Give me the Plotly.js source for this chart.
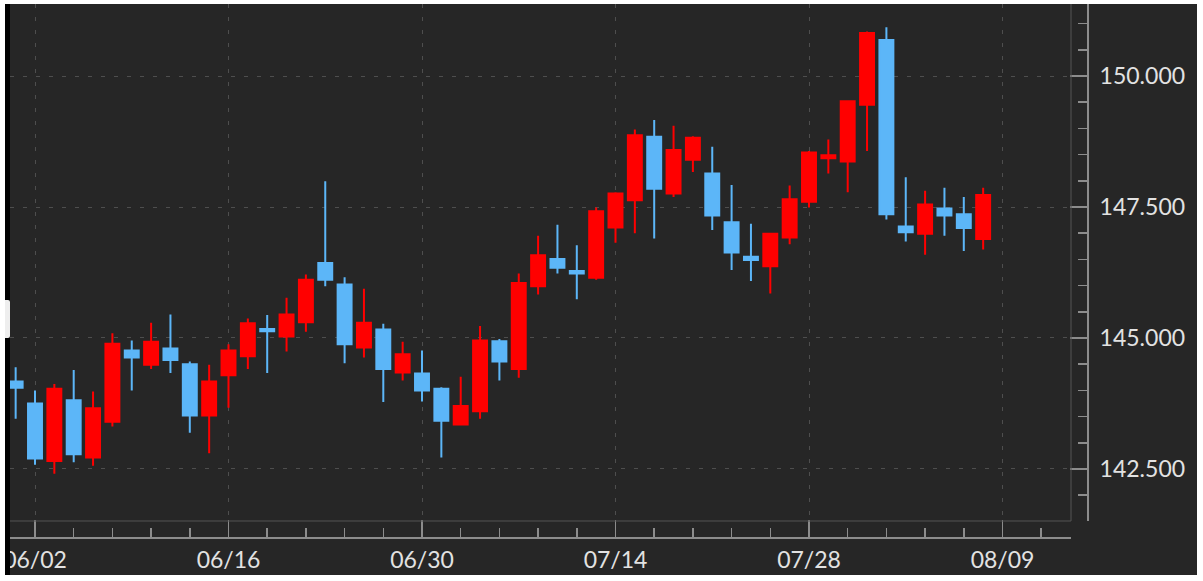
<!DOCTYPE html>
<html>
<head>
<meta charset="utf-8">
<script src="https://cdn.plot.ly/plotly-3.0.1.min.js"></script>
<style>
  html, body { margin: 0; padding: 0; background: #ffffff; width: 1203px; height: 581px; overflow: hidden; }
  #edge { position: absolute; left: 5px; top: 4px; width: 5px; height: 571px; background: #000000; }
  #handle { position: absolute; left: 5px; top: 300px; width: 5px; height: 38px; background: #eeeeee; border-radius: 0 2px 2px 0; }
  #chart { position: absolute; left: 10px; top: 4px; width: 1187px; height: 571px; }
</style>
</head>
<body>
<div id="edge"></div>
<div id="chart"></div>
<div id="handle"></div>
<script>
// Trading days (MM/DD, 2025)
const dates = [
  '05/30',
  '06/02','06/03','06/04','06/05','06/06','06/09','06/10','06/11','06/12','06/13',
  '06/16','06/17','06/18','06/19','06/20','06/23','06/24','06/25','06/26','06/27','06/30',
  '07/01','07/02','07/03','07/04','07/07','07/08','07/09','07/10','07/11',
  '07/14','07/15','07/16','07/17','07/18','07/21','07/22','07/23','07/24','07/25',
  '07/28','07/29','07/30','07/31','08/01','08/04','08/05','08/06','08/07','08/08'
];
const open = [
  144.17, 143.75, 142.65, 143.81, 142.72, 143.40, 144.76, 144.49, 144.80, 144.50,
  143.52, 144.29, 144.65, 145.17, 145.03, 145.30, 146.43, 146.02, 144.82, 145.16,
  144.34, 144.32, 144.03, 143.35, 143.60, 144.94, 144.41, 145.99, 146.51, 146.28,
  146.15, 147.11, 147.63, 148.84, 147.76, 148.40, 148.14, 147.21, 146.55, 146.37,
  146.92, 147.60, 148.43, 148.37, 149.45, 150.69, 147.13, 146.99, 147.47, 147.36,
  146.89
];
const high = [
  144.44, 144.00, 144.12, 144.39, 143.98, 145.09, 144.95, 145.29, 145.45, 144.55,
  144.49, 144.88, 145.37, 145.44, 145.77, 146.21, 147.99, 146.16, 145.94, 145.27,
  144.93, 144.76, 144.06, 144.26, 145.23, 144.98, 146.23, 146.95, 147.16, 146.77,
  147.49, 147.78, 148.98, 149.16, 149.05, 148.85, 148.65, 147.92, 147.18, 147.00,
  147.91, 148.57, 148.79, 149.53, 150.85, 150.93, 148.07, 147.81, 147.87, 147.69,
  147.87
];
const low = [
  143.46, 142.58, 142.41, 142.63, 142.56, 143.31, 144.00, 144.41, 144.33, 143.19,
  142.80, 143.67, 144.41, 144.33, 144.74, 145.12, 145.99, 144.52, 144.63, 143.78,
  144.19, 143.79, 142.72, 143.33, 143.46, 144.19, 144.24, 145.83, 146.23, 145.74,
  146.11, 146.82, 147.00, 146.90, 147.69, 148.17, 147.06, 146.30, 146.09, 145.85,
  146.79, 147.49, 148.14, 147.78, 148.57, 147.26, 146.84, 146.59, 146.95, 146.66,
  146.69
];
const close = [
  144.05, 142.70, 144.03, 142.78, 143.66, 144.89, 144.63, 144.93, 144.58, 143.52,
  144.17, 144.76, 145.28, 145.13, 145.45, 146.11, 146.11, 144.88, 145.29, 144.41,
  144.69, 144.00, 143.42, 143.70, 144.95, 144.55, 146.05, 146.58, 146.34, 146.23,
  147.42, 147.76, 148.87, 147.85, 148.59, 148.82, 147.34, 146.63, 146.49, 146.99,
  147.65, 148.54, 148.49, 149.52, 150.82, 147.36, 147.02, 147.55, 147.34, 147.10,
  147.73
];
// X tick labels (every 10 trading days)
const tickLabels = ['06/02', '06/16', '06/30', '07/14', '07/28', '08/09'];

const UP = '#ff0000';
const DOWN = '#5cb6f8';
const BG = '#262626';
const AXIS = '#8c8c8c';
const GRID = '#4e4e4e';
const TEXT = '#e2e2e2';

const xIndex = dates.map((d, i) => i);

const trace = {
  type: 'candlestick',
  x: xIndex,
  open: open, high: high, low: low, close: close,
  text: dates,
  hoverinfo: 'text+y',
  increasing: { line: { color: UP, width: 2 }, fillcolor: UP },
  decreasing: { line: { color: DOWN, width: 2 }, fillcolor: DOWN },
  whiskerwidth: 0,
  showlegend: false
};

const FONT = 'Lato, "Open Sans", sans-serif';

const layout = {
  width: 1187, height: 571,
  margin: { l: 0, r: 109, t: 0, b: 37, pad: 0 },
  paper_bgcolor: BG, plot_bgcolor: BG,
  font: { family: FONT, color: TEXT, size: 23 },
  boxgap: 0.28, boxgroupgap: 0,
  showlegend: false,
  xaxis: {
    domain: [0, 0.98423],
    anchor: 'free', position: 0,
    range: [-0.292, 54.54],
    type: 'linear',
    rangeslider: { visible: false },
    tickmode: 'array',
    tickvals: [1, 11, 21, 31, 41, 51],
    ticktext: tickLabels,
    ticks: 'inside', ticklen: 17, tickwidth: 1.5, tickcolor: AXIS,
    showline: true, linecolor: AXIS, linewidth: 2,
    showgrid: true, gridcolor: GRID, gridwidth: 1, griddash: '4px,9px',
    zeroline: false,
    ticklabelstandoff: 1,
    ticklabeloverflow: 'allow',
    minor: { tickmode: 'linear', tick0: 1, dtick: 2, ticks: 'inside', ticklen: 9, tickwidth: 1.5, tickcolor: AXIS, showgrid: false },
    tickfont: { family: FONT, size: 23, color: TEXT },
    fixedrange: true
  },
  yaxis: {
    domain: [0.03184, 1],
    anchor: 'free', position: 1, side: 'right',
    range: [141.507, 151.375],
    tickmode: 'linear', tick0: 0, dtick: 2.5,
    tickformat: '.3f',
    ticks: 'inside', ticklen: 17, tickwidth: 1.5, tickcolor: AXIS,
    showline: true, linecolor: AXIS, linewidth: 2,
    showgrid: true, gridcolor: GRID, gridwidth: 1, griddash: '4px,9px',
    zeroline: false,
    ticklabelstandoff: 6,
    minor: { tickmode: 'linear', tick0: 0, dtick: 0.5, ticks: 'inside', ticklen: 9, tickwidth: 1.5, tickcolor: AXIS, showgrid: false },
    tickfont: { family: FONT, size: 23, color: TEXT },
    fixedrange: true
  },
  shapes: [
    { type: 'line', xref: 'x domain', yref: 'y domain', x0: 1, x1: 1, y0: 0, y1: 1, line: { color: '#555555', width: 1 } },
    { type: 'line', xref: 'x domain', yref: 'y domain', x0: 0, x1: 1, y0: 0, y1: 0, line: { color: '#555555', width: 1 } }
  ]
};

Plotly.newPlot('chart', [trace], layout, { displayModeBar: false, staticPlot: true });
</script>
</body>
</html>
